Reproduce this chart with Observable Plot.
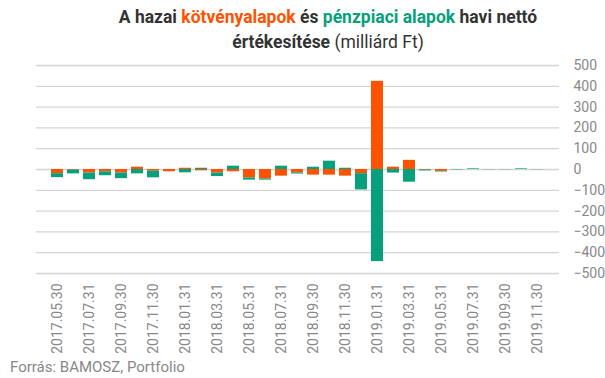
<!DOCTYPE html>
<html>
<head>
<meta charset="utf-8">
<script src="https://cdn.jsdelivr.net/npm/d3@7"></script>
<script src="https://cdn.jsdelivr.net/npm/@observablehq/plot@0.6"></script>
<style>
  body { margin: 0; background: #fff; font-family: Roboto, sans-serif; }
  #wrap { position: relative; width: 605px; height: 378px; overflow: hidden; }
  #title { position: absolute; left: 0; top: 5px; width: 656px; text-align: center; font-size: 17.5px; font-weight: bold; color: #333; line-height: 25px; }
  #title .o { color: #fd5200; }
  #title .g { color: #06a07d; }
  #title .n { font-weight: normal; }
  #caption { position: absolute; left: 10px; top: 358px; font-size: 15px; color: #888; }
  svg { position: absolute; left: 0; top: 0; }
</style>
</head>
<body>
<div id="wrap">
  <div id="chart"></div>
  <div id="title">A hazai <span class="o">kötvényalapok</span> és <span class="g">pénzpiaci alapok</span> havi nettó<br>értékesítése <span class="n">(milliárd Ft)</span></div>
  <div id="caption">Forrás: BAMOSZ, Portfolio</div>
</div>
<script>
const months = [
  "2017.05.30","2017.06.30","2017.07.31","2017.08.31","2017.09.30","2017.10.31","2017.11.30","2017.12.29",
  "2018.01.31","2018.02.28","2018.03.31","2018.04.30","2018.05.31","2018.06.29","2018.07.31","2018.08.31",
  "2018.09.30","2018.10.31","2018.11.30","2018.12.31","2019.01.31","2019.02.28","2019.03.31","2019.04.30",
  "2019.05.31","2019.06.30","2019.07.31","2019.08.31","2019.09.30","2019.10.31","2019.11.30"
];
const kotveny = [-20, -3, -17, -11, -17, 11, -8, -11,
  6, -6, -17, -11, -41, -46, -32, -17,
  -27, -27, -32, -20, 424, 11, 44, -3,
  -9, 0, 0, 0, 0, 0, 0];
const penzpiaci = [-19, -18, -32, -19, -27, -21, -32, 0,
  -16, 6, -17, 16, -10, -5, 16, -5,
  11, 40, 6, -78, -443, -17, -61, -4,
  -3, -2, 3, -1, -1, 3, -1];
const tickLabels = months.filter((d, i) => i % 2 === 0);
const yTicks = [-500, -400, -300, -200, -100, 0, 100, 200, 300, 400, 500];
const seriesNames = ["kötvényalapok", "pénzpiaci alapok"];
const colors = ["#fd5200", "#06a07d"];

const data = [];
months.forEach((m, i) => {
  data.push({month: m, series: seriesNames[0], value: kotveny[i]});
  data.push({month: m, series: seriesNames[1], value: penzpiaci[i]});
});

const plot = Plot.plot({
  width: 605,
  height: 378,
  marginTop: 65,
  marginBottom: 105,
  marginLeft: 36,
  marginRight: 46,
  style: {fontFamily: "Roboto, sans-serif", fontSize: "14px", color: "#888", background: "transparent"},
  x: {type: "band", domain: months, paddingInner: 0.23, paddingOuter: 0.1, label: null},
  y: {domain: [-500, 500], label: null},
  color: {domain: seriesNames, range: colors},
  marks: [
    Plot.ruleY(yTicks, {stroke: "#d4d4d4", strokeWidth: 1.3}),
    Plot.barY(data, Plot.stackY({order: seriesNames, x: "month", y: "value", fill: "series"})),
    Plot.axisY({anchor: "right", ticks: yTicks, tickSize: 0, tickPadding: 14, textAnchor: "start", fill: "#888", fontSize: 14}),
    Plot.axisX({ticks: tickLabels, tickSize: 0, tickPadding: 10, tickRotate: -90, fill: "#888", fontSize: 14})
  ]
});
document.getElementById("chart").appendChild(plot);
</script>
</body>
</html>
